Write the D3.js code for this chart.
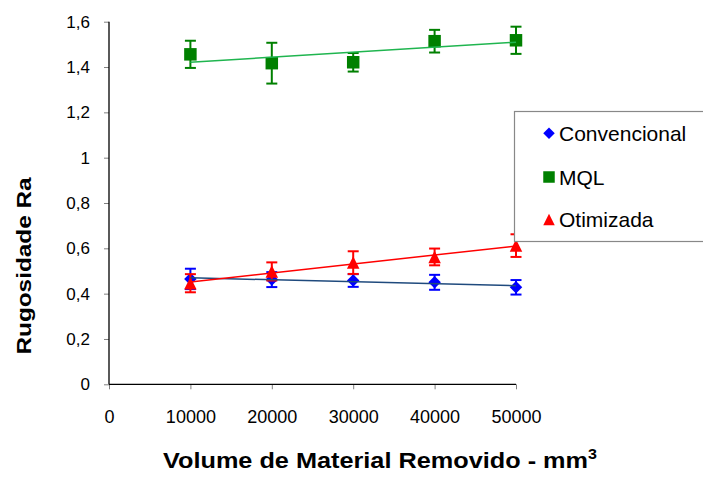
<!DOCTYPE html>
<html>
<head>
<meta charset="utf-8">
<script src="https://cdn.jsdelivr.net/npm/d3@7"></script>
<style>
  html, body { margin: 0; padding: 0; background: #fff; }
  svg { display: block; }
  svg text { font-family: "Liberation Sans", Arial, sans-serif !important; }
</style>
</head>
<body>
<svg id="chart" width="703" height="477"></svg>
<script>
// Volume of material removed (mm³)
const volumes = [10000, 20000, 30000, 40000, 50000];

// Roughness Ra means and error half-widths per lubrication condition
const convencional    = [0.465, 0.462, 0.458, 0.450, 0.428];
const convencionalErr = [0.045, 0.033, 0.028, 0.033, 0.032];
const mql             = [1.456, 1.417, 1.421, 1.514, 1.518];
const mqlErr          = [0.060, 0.090, 0.041, 0.050, 0.060];
const otimizada       = [0.446, 0.498, 0.537, 0.562, 0.612];
const otimizadaErr    = [0.040, 0.040, 0.050, 0.037, 0.050];

const xTicks = [0, 10000, 20000, 30000, 40000, 50000];
const yTicks = [0, 0.2, 0.4, 0.6, 0.8, 1.0, 1.2, 1.4, 1.6];

const seriesNames = ["Convencional", "MQL", "Otimizada"];

const series = [
  { name: seriesNames[0], values: convencional, err: convencionalErr, color: "#0000ff", trend: "#1f4a7d", shape: "diamond" },
  { name: seriesNames[1], values: mql,          err: mqlErr,          color: "#008000", trend: "#1fb54f", shape: "square" },
  { name: seriesNames[2], values: otimizada,    err: otimizadaErr,    color: "#ff0000", trend: "#ff0000", shape: "triangle" }
];

const svg = d3.select("#chart");

const x = d3.scaleLinear().domain([0, 50000]).range([109, 516]);
const y = d3.scaleLinear().domain([0, 1.6]).range([384.3, 21.7]);

const fmtY = v => d3.format("~g")(+v.toFixed(1)).replace(".", ",");

// Y axis: gray ticks to the left, black spine
const yAxis = svg.append("g").attr("transform", `translate(${x(0)},0)`)
  .call(d3.axisLeft(y).tickValues(yTicks).tickSize(5).tickPadding(14).tickFormat(fmtY));
yAxis.select(".domain").remove();
yAxis.selectAll(".tick line").attr("stroke", "#808080").attr("stroke-width", 1);
yAxis.selectAll(".tick text").attr("font-size", 17).attr("fill", "#000");

// X axis: gray ticks downward
const xAxis = svg.append("g").attr("transform", `translate(0,${y(0)})`)
  .call(d3.axisBottom(x).tickValues(xTicks).tickSize(5).tickPadding(0).tickFormat(d3.format("d")));
xAxis.select(".domain").remove();
xAxis.selectAll(".tick line").attr("stroke", "#808080").attr("stroke-width", 1);
xAxis.selectAll(".tick text")
  .attr("font-size", 18).attr("fill", "#000").attr("dy", null).attr("y", 39);

// Spines
svg.append("line").attr("x1", x(0)).attr("x2", x(0)).attr("y1", y(1.6)).attr("y2", y(0))
  .attr("stroke", "#000").attr("stroke-width", 1.3);
svg.append("line").attr("x1", x(0)).attr("x2", x(50000)).attr("y1", y(0)).attr("y2", y(0))
  .attr("stroke", "#000").attr("stroke-width", 1.3);

// Marker shapes centred on (0,0)
function shapePath(shape, s) {
  const h = s / 2;
  if (shape === "diamond") return `M0,${-h}L${h},0L0,${h}L${-h},0Z`;
  if (shape === "square") return `M${-h},${-h}H${h}V${h}H${-h}Z`;
  return `M0,${-h}L${h},${h}L${-h},${h}Z`;
}

// Least-squares trend line over the measured range
function trend(xs, ys) {
  const mx = d3.mean(xs), my = d3.mean(ys);
  const b = d3.sum(xs, (v, i) => (v - mx) * (ys[i] - my)) / d3.sum(xs, v => (v - mx) ** 2);
  const a = my - b * mx;
  const x0 = d3.min(xs), x1 = d3.max(xs);
  return [[x0, a + b * x0], [x1, a + b * x1]];
}

const plot = svg.append("g");
const capW = 11;

series.forEach(s => {
  const g = plot.append("g");
  s.values.forEach((v, i) => {
    const cx = x(volumes[i]);
    const top = y(v + s.err[i]), bot = y(v - s.err[i]);
    g.append("line").attr("x1", cx).attr("x2", cx).attr("y1", top).attr("y2", bot)
      .attr("stroke", s.color).attr("stroke-width", 2);
    [top, bot].forEach(yy => g.append("line")
      .attr("x1", cx - capW / 2).attr("x2", cx + capW / 2).attr("y1", yy).attr("y2", yy)
      .attr("stroke", s.color).attr("stroke-width", 2));
  });
  g.selectAll("path.mk").data(s.values).join("path").attr("class", "mk")
    .attr("d", shapePath(s.shape, 12.5))
    .attr("transform", (v, i) => `translate(${x(volumes[i])},${y(v)})`)
    .attr("fill", s.color);
});

const line = d3.line().x(d => x(d[0])).y(d => y(d[1]));
series.forEach(s => {
  plot.append("path").attr("d", line(trend(volumes, s.values)))
    .attr("fill", "none").attr("stroke", s.trend).attr("stroke-width", 1.5);
});

// Legend
const lg = svg.append("g");
lg.append("rect").attr("x", 514.5).attr("y", 111.5).attr("width", 200).attr("height", 130)
  .attr("fill", "#fff").attr("stroke", "#888").attr("stroke-width", 1.2);
const legendY = [133.3, 177, 219.5];
series.forEach((s, i) => {
  lg.append("path").attr("d", shapePath(s.shape, 11.5))
    .attr("transform", `translate(549,${legendY[i]})`).attr("fill", s.color);
  lg.append("text").attr("x", 559).attr("y", legendY[i]).attr("dy", "0.36em")
    .attr("font-size", 21).attr("fill", "#000").text(s.name);
});

// Axis titles
const xt = svg.append("text").attr("x", 380).attr("y", 468)
  .attr("text-anchor", "middle").attr("font-size", 22).attr("font-weight", "bold")
  .attr("textLength", 434).attr("lengthAdjust", "spacingAndGlyphs");
xt.append("tspan").text("Volume de Material Removido - mm");
xt.append("tspan").attr("font-size", 14).attr("dy", -9).text("3");

svg.append("text").attr("transform", "translate(31,266) rotate(-90)")
  .attr("text-anchor", "middle").attr("font-size", 21).attr("font-weight", "bold")
  .attr("textLength", 177).attr("lengthAdjust", "spacingAndGlyphs")
  .text("Rugosidade Ra");
</script>
</body>
</html>
